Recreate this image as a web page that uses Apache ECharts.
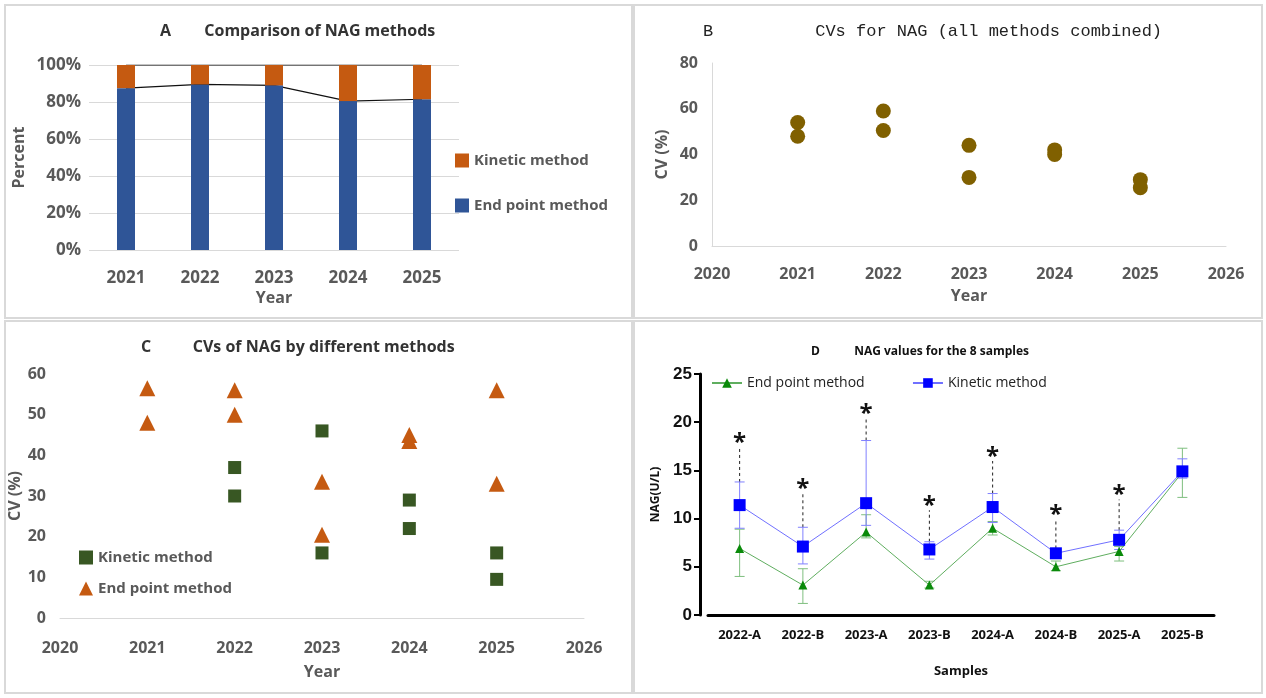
<!DOCTYPE html>
<html><head><meta charset="utf-8">
<script src="https://cdn.jsdelivr.net/npm/echarts@6/dist/echarts.min.js"></script>
<style>html,body{margin:0;padding:0;background:#fff}#main{width:1266px;height:698px}</style>
</head><body><div id="main"></div>
<script>
// panel A - share of methods (%)
var yearsA = ['2021', '2022', '2023', '2024', '2025'];
var endShare = [87.5, 89.5, 89, 80.5, 81.5];
var kinShare = [12.5, 10.5, 11, 19.5, 18.5];

// panel B - CVs all methods combined
var cvAll = [[2021, 54], [2021, 48], [2022, 59], [2022, 50.5], [2023, 44], [2023, 30], [2024, 42], [2024, 40], [2025, 29], [2025, 25.5]];

// panel C - CVs by method
var cvKinetic = [[2022, 37], [2022, 30], [2023, 46], [2023, 16], [2024, 29], [2024, 22], [2025, 16], [2025, 9.5]];
var cvEnd = [[2021, 56.5], [2021, 48], [2022, 56], [2022, 50], [2023, 33.5], [2023, 20.5], [2024, 45], [2024, 43.5], [2025, 56], [2025, 33]];

// panel D - NAG values
var samples = ['2022-A', '2022-B', '2023-A', '2023-B', '2024-A', '2024-B', '2025-A', '2025-B'];
var endVal = [6.9, 3.1, 8.6, 3.1, 9.0, 5.0, 6.6, 14.8];
var endLow = [4.0, 1.2, 8.0, 2.8, 8.3, 4.6, 5.6, 12.2];
var endHigh = [8.9, 4.8, 10.4, 3.5, 9.7, 5.6, 7.1, 17.3];
var kinVal = [11.4, 7.1, 11.6, 6.8, 11.2, 6.4, 7.8, 14.9];
var kinLow = [9.0, 5.3, 9.3, 5.8, 9.6, 5.9, 6.8, 14.2];
var kinHigh = [13.8, 9.1, 18.1, 7.6, 12.6, 6.9, 8.8, 16.2];
var starVal = [18.2, 13.5, 21.3, 11.7, 16.8, 10.8, 12.8, null];

var chart = echarts.init(document.getElementById('main'));
var grey = '#595959';
var fnt = 'Open Sans';
var yearFmt = function (v) { return String(v); };

function errBar(color, lows, highs) {
  return {
    type: 'custom', xAxisIndex: 3, yAxisIndex: 3, z: 3,
    data: samples.map(function (s, i) { return [i, lows[i], highs[i]]; }),
    renderItem: function (params, api) {
      var lo = api.coord([api.value(0), api.value(1)]);
      var hi = api.coord([api.value(0), api.value(2)]);
      var st = {stroke: color, lineWidth: 1};
      return {type: 'group', children: [
        {type: 'line', shape: {x1: lo[0], y1: lo[1], x2: hi[0], y2: hi[1]}, style: st},
        {type: 'line', shape: {x1: lo[0] - 5, y1: lo[1], x2: lo[0] + 5, y2: lo[1]}, style: st},
        {type: 'line', shape: {x1: hi[0] - 5, y1: hi[1], x2: hi[0] + 5, y2: hi[1]}, style: st}
      ]};
    }
  };
}

var rectStyle = {fill: 'none', stroke: '#d9d9d9', lineWidth: 2};

var option = {
  backgroundColor: '#fff',
  animation: false,
  graphic: [
    {type: 'rect', shape: {x: 5, y: 5, width: 627, height: 313}, style: rectStyle},
    {type: 'rect', shape: {x: 634, y: 5, width: 628, height: 313}, style: rectStyle},
    {type: 'rect', shape: {x: 5, y: 321, width: 627, height: 372}, style: rectStyle},
    {type: 'rect', shape: {x: 634, y: 321, width: 628, height: 372}, style: rectStyle}
  ],
  title: [
    {text: 'A        Comparison of NAG methods', left: 155, top: 18, textStyle: {fontFamily: fnt, fontSize: 16, fontWeight: 'bold', color: '#333'}},
    {text: 'B          CVs for NAG (all methods combined)', left: 698, top: 18, textStyle: {fontFamily: 'Liberation Mono', fontSize: 17, fontWeight: 'normal', color: '#222'}},
    {text: 'C          CVs of NAG by different methods', left: 136, top: 334, textStyle: {fontFamily: fnt, fontSize: 16, fontWeight: 'bold', color: '#333'}},
    {text: 'D           NAG values for the 8 samples', left: 806, top: 341, textStyle: {fontFamily: fnt, fontSize: 12, fontWeight: 'bold', color: '#111'}}
  ],
  legend: [
    {data: ['Kinetic method', 'End point method'], orient: 'vertical', left: 450, top: 148, itemGap: 30, itemWidth: 14, itemHeight: 14, icon: 'rect',
      textStyle: {fontFamily: fnt, fontSize: 15, fontWeight: 'bold', color: grey}},
    {data: [{name: 'Kinetic method ', icon: 'rect'}, {name: 'End point method ', icon: 'triangle'}], orient: 'vertical', left: 74, top: 545, itemGap: 16, itemWidth: 14, itemHeight: 14,
      textStyle: {fontFamily: fnt, fontSize: 15, fontWeight: 'bold', color: grey}},
    {data: ['End point method  ', 'Kinetic method  '], left: 706, top: 371, itemGap: 40, itemWidth: 30, itemHeight: 12,
      textStyle: {fontFamily: fnt, fontSize: 14, color: '#222'}}
  ],
  grid: [
    {left: 89, top: 65, width: 370, height: 185},
    {left: 712, top: 63, width: 514, height: 183},
    {left: 60, top: 374, width: 524, height: 244},
    {left: 708, top: 374, width: 506, height: 241}
  ],
  xAxis: [
    {gridIndex: 0, type: 'category', data: yearsA, name: 'Year', nameLocation: 'middle', nameGap: 40,
      nameTextStyle: {fontFamily: fnt, fontSize: 16, fontWeight: 'bold', color: grey},
      axisLine: {show: false}, axisTick: {show: false},
      axisLabel: {fontFamily: fnt, fontSize: 17, fontWeight: 'bold', color: grey, margin: 20}},
    {gridIndex: 1, type: 'value', min: 2020, max: 2026, interval: 1, name: 'Year', nameLocation: 'middle', nameGap: 42,
      nameTextStyle: {fontFamily: fnt, fontSize: 16, fontWeight: 'bold', color: grey},
      axisLine: {show: true, lineStyle: {color: '#d9d9d9'}}, axisTick: {show: false}, splitLine: {show: false},
      axisLabel: {formatter: yearFmt, fontFamily: fnt, fontSize: 16, fontWeight: 'bold', color: grey, margin: 20}},
    {gridIndex: 2, type: 'value', min: 2020, max: 2026, interval: 1, name: 'Year', nameLocation: 'middle', nameGap: 46,
      nameTextStyle: {fontFamily: fnt, fontSize: 16, fontWeight: 'bold', color: grey},
      axisLine: {show: true, lineStyle: {color: '#d9d9d9'}}, axisTick: {show: false}, splitLine: {show: false},
      axisLabel: {formatter: yearFmt, fontFamily: fnt, fontSize: 16, fontWeight: 'bold', color: grey, margin: 22}},
    {gridIndex: 3, type: 'category', data: samples, name: 'Samples', nameLocation: 'middle', nameGap: 50,
      nameTextStyle: {fontFamily: fnt, fontSize: 13, fontWeight: 'bold', color: '#111'},
      axisLine: {lineStyle: {color: '#000', width: 3}}, axisTick: {alignWithLabel: true, length: 6, lineStyle: {width: 2, color: '#000'}},
      axisLabel: {fontFamily: fnt, fontSize: 13, fontWeight: 'bold', color: '#111', margin: 14}}
  ],
  yAxis: [
    {gridIndex: 0, type: 'value', min: 0, max: 100, interval: 20, name: 'Percent', nameLocation: 'middle', nameGap: 62,
      nameTextStyle: {fontFamily: fnt, fontSize: 16, fontWeight: 'bold', color: grey},
      axisLabel: {formatter: '{value}%', fontFamily: fnt, fontSize: 17, fontWeight: 'bold', color: grey},
      splitLine: {lineStyle: {color: '#d9d9d9'}}},
    {gridIndex: 1, type: 'value', min: 0, max: 80, interval: 20, name: 'CV (%)', nameLocation: 'middle', nameGap: 42,
      nameTextStyle: {fontFamily: fnt, fontSize: 16, fontWeight: 'bold', color: grey},
      axisLine: {show: true, lineStyle: {color: '#d9d9d9'}}, axisTick: {show: false}, splitLine: {show: false},
      axisLabel: {fontFamily: fnt, fontSize: 16, fontWeight: 'bold', color: grey, margin: 14}},
    {gridIndex: 2, type: 'value', min: 0, max: 60, interval: 10, name: 'CV (%)', nameLocation: 'middle', nameGap: 36,
      nameTextStyle: {fontFamily: fnt, fontSize: 16, fontWeight: 'bold', color: grey},
      axisLine: {show: false}, axisTick: {show: false}, splitLine: {show: false},
      axisLabel: {fontFamily: fnt, fontSize: 16, fontWeight: 'bold', color: grey, margin: 14}},
    {gridIndex: 3, type: 'value', min: 0, max: 25, interval: 5, offset: 8, name: 'NAG(U/L)', nameLocation: 'middle', nameGap: 38,
      nameTextStyle: {fontFamily: fnt, fontSize: 12, fontWeight: 'bold', color: '#111'},
      axisLine: {show: true, lineStyle: {color: '#000', width: 3}}, axisTick: {show: true, length: 6, lineStyle: {width: 2, color: '#000'}},
      splitLine: {show: false},
      axisLabel: {fontFamily: 'Liberation Sans', fontSize: 17, fontWeight: 'bold', color: '#111'}}
  ],
  series: [
    // A: connector lines (hidden behind bars between them)
    {type: 'line', xAxisIndex: 0, yAxisIndex: 0, data: endShare, symbol: 'none', z: 1, lineStyle: {color: '#111', width: 1.2}, silent: true},
    {type: 'line', xAxisIndex: 0, yAxisIndex: 0, data: yearsA.map(function () { return 100; }), symbol: 'none', z: 1, lineStyle: {color: '#111', width: 1.2}, silent: true},
    {name: 'End point method', type: 'bar', stack: 'a', xAxisIndex: 0, yAxisIndex: 0, data: endShare, barWidth: 18, z: 3, itemStyle: {color: '#2f5597'}},
    {name: 'Kinetic method', type: 'bar', stack: 'a', xAxisIndex: 0, yAxisIndex: 0, data: kinShare, barWidth: 18, z: 3, itemStyle: {color: '#c55a11'}},
    // B
    {type: 'scatter', xAxisIndex: 1, yAxisIndex: 1, data: cvAll, symbolSize: 15, itemStyle: {color: '#806000', opacity: 1}},
    // C
    {name: 'Kinetic method ', type: 'scatter', xAxisIndex: 2, yAxisIndex: 2, data: cvKinetic, symbol: 'rect', symbolSize: 13, itemStyle: {color: '#385723', opacity: 1}},
    {name: 'End point method ', type: 'scatter', xAxisIndex: 2, yAxisIndex: 2, data: cvEnd, symbol: 'triangle', symbolSize: 16, itemStyle: {color: '#c55a11', opacity: 1}},
    // D
    errBar('#7fbf7f', endLow, endHigh),
    errBar('#8080ff', kinLow, kinHigh),
    {name: 'End point method  ', type: 'line', xAxisIndex: 3, yAxisIndex: 3, data: endVal, symbol: 'triangle', symbolSize: 9, z: 4,
      lineStyle: {color: '#5fae5f', width: 1}, itemStyle: {color: '#0a8a0a'}},
    {name: 'Kinetic method  ', type: 'line', xAxisIndex: 3, yAxisIndex: 3, data: kinVal, symbol: 'rect', symbolSize: 12, z: 4,
      lineStyle: {color: '#7070ff', width: 1}, itemStyle: {color: '#0000ff'}},
    // significance markers: dashed line from kinetic error top up to a star
    {type: 'custom', xAxisIndex: 3, yAxisIndex: 3, z: 2,
      data: samples.map(function (s, i) { return starVal[i] == null ? null : [i, kinHigh[i], starVal[i]]; }).filter(function (d) { return d; }),
      renderItem: function (params, api) {
        var a = api.coord([api.value(0), api.value(1)]);
        var b = api.coord([api.value(0), api.value(2)]);
        return {type: 'group', children: [
          {type: 'line', shape: {x1: a[0], y1: a[1], x2: b[0], y2: b[1] + 8}, style: {stroke: '#222', lineWidth: 1, lineDash: [3, 3]}},
          {type: 'text', x: b[0], y: b[1] + 4, style: {text: '*', fontSize: 24, fontWeight: 'bold', fill: '#111', fontFamily: fnt, align: 'center', verticalAlign: 'middle'}}
        ]};
      }}
  ]
};
chart.setOption(option);
</script>
</body></html>
